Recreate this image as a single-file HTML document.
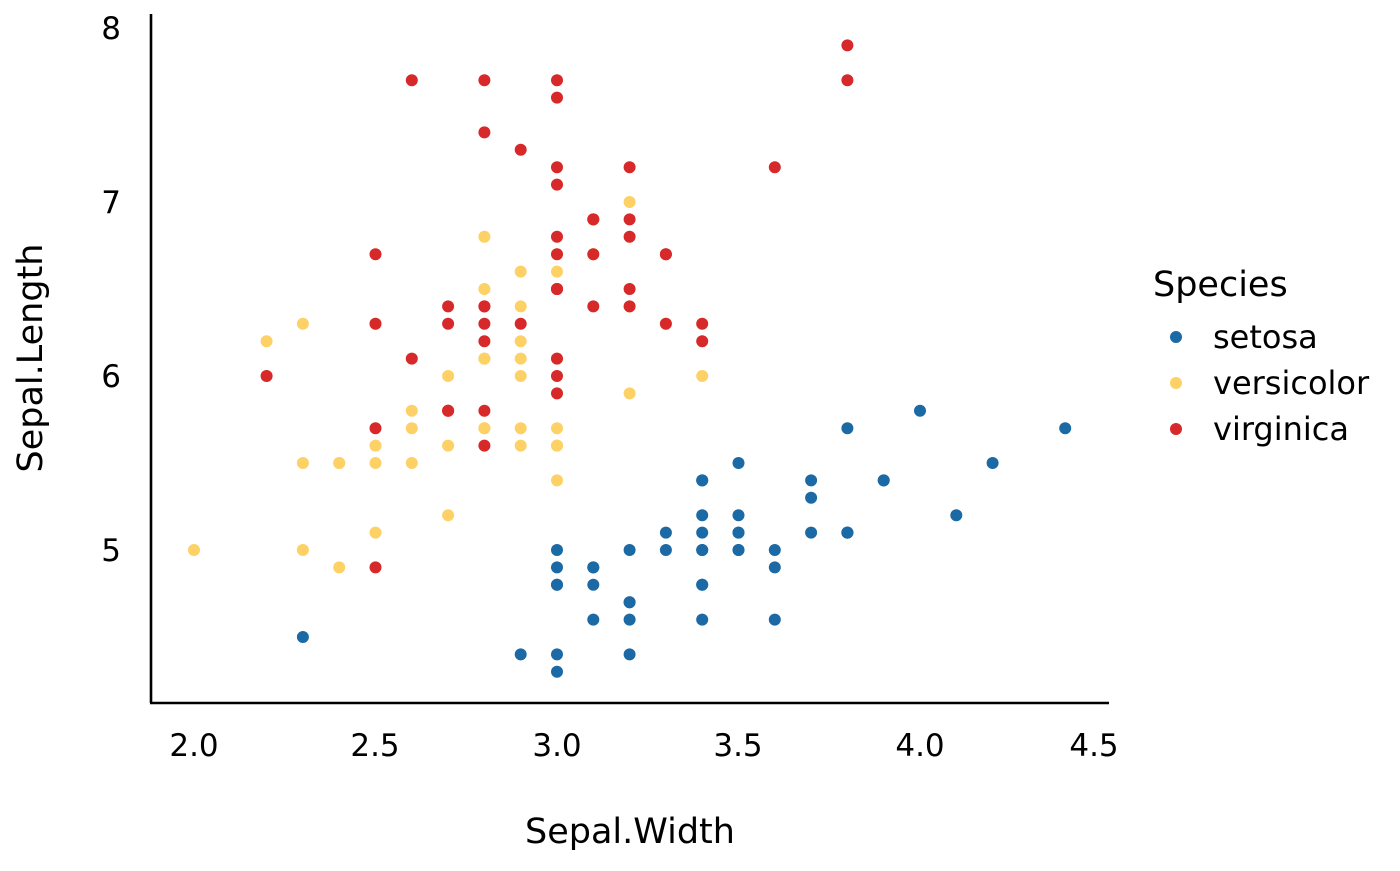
<!DOCTYPE html>
<html><head><meta charset="utf-8"><style>
html,body{margin:0;padding:0;background:#fff}
svg text{font-family:"DejaVu Sans","Liberation Sans",sans-serif;fill:#000}
</style></head><body>
<svg id="s" width="1400" height="866" xmlns="http://www.w3.org/2000/svg">
<line x1="151" y1="14" x2="151" y2="703" stroke="#000" stroke-width="2.6"/>
<line x1="150" y1="703" x2="1109" y2="703" stroke="#000" stroke-width="2.6"/>
<g font-size="31" text-anchor="end">
<text x="121" y="39">8</text><text x="121" y="213">7</text><text x="121" y="387">6</text><text x="121" y="561">5</text>
</g>
<g font-size="31" text-anchor="middle">
<text x="194" y="756">2.0</text><text x="375" y="756">2.5</text><text x="557" y="756">3.0</text><text x="738" y="756">3.5</text><text x="920" y="756">4.0</text><text x="1094" y="756">4.5</text>
<text x="630" y="843" font-size="35">Sepal.Width</text>
<text transform="translate(42,358) rotate(-90)" font-size="35">Sepal.Length</text>
</g>
<text x="1153" y="296" font-size="35">Species</text>
<circle cx="1176" cy="337" r="6" fill="#1b6aa5"/><text x="1213" y="348" font-size="32">setosa</text>
<circle cx="1176" cy="383" r="6" fill="#fdd166"/><text x="1213" y="394" font-size="32">versicolor</text>
<circle cx="1176" cy="429" r="6" fill="#d7282a"/><text x="1213" y="440" font-size="32">virginica</text>
<g id="pts"></g>
</svg>
<script>
var d={"#1b6aa5":"5.1,3.5;4.9,3.0;4.7,3.2;4.6,3.1;5.0,3.6;5.4,3.9;4.6,3.4;5.0,3.4;4.4,2.9;4.9,3.1;5.4,3.7;4.8,3.4;4.8,3.0;4.3,3.0;5.8,4.0;5.7,4.4;5.4,3.9;5.1,3.5;5.7,3.8;5.1,3.8;5.4,3.4;5.1,3.7;4.6,3.6;5.1,3.3;4.8,3.4;5.0,3.0;5.0,3.4;5.2,3.5;5.2,3.4;4.7,3.2;4.8,3.1;5.4,3.4;5.2,4.1;5.5,4.2;4.9,3.1;5.0,3.2;5.5,3.5;4.9,3.6;4.4,3.0;5.1,3.4;5.0,3.5;4.5,2.3;4.4,3.2;5.0,3.5;5.1,3.8;4.8,3.0;5.1,3.8;4.6,3.2;5.3,3.7;5.0,3.3",
"#fdd166":"7.0,3.2;6.4,3.2;6.9,3.1;5.5,2.3;6.5,2.8;5.7,2.8;6.3,3.3;4.9,2.4;6.6,2.9;5.2,2.7;5.0,2.0;5.9,3.0;6.0,2.2;6.1,2.9;5.6,2.9;6.7,3.1;5.6,3.0;5.8,2.7;6.2,2.2;5.6,2.5;5.9,3.2;6.1,2.8;6.3,2.5;6.1,2.8;6.4,2.9;6.6,3.0;6.8,2.8;6.7,3.0;6.0,2.9;5.7,2.6;5.5,2.4;5.5,2.4;5.8,2.7;6.0,2.7;5.4,3.0;6.0,3.4;6.7,3.1;6.3,2.3;5.6,3.0;5.5,2.5;5.5,2.6;6.1,3.0;5.8,2.6;5.0,2.3;5.6,2.7;5.7,3.0;5.7,2.9;6.2,2.9;5.1,2.5;5.7,2.8",
"#d7282a":"6.3,3.3;5.8,2.7;7.1,3.0;6.3,2.9;6.5,3.0;7.6,3.0;4.9,2.5;7.3,2.9;6.7,2.5;7.2,3.6;6.5,3.2;6.4,2.7;6.8,3.0;5.7,2.5;5.8,2.8;6.4,3.2;6.5,3.0;7.7,3.8;7.7,2.6;6.0,2.2;6.9,3.2;5.6,2.8;7.7,2.8;6.3,2.7;6.7,3.3;7.2,3.2;6.2,2.8;6.1,3.0;6.4,2.8;7.2,3.0;7.4,2.8;7.9,3.8;6.4,2.8;6.3,2.8;6.1,2.6;7.7,3.0;6.3,3.4;6.4,3.1;6.0,3.0;6.9,3.1;6.7,3.1;6.9,3.1;5.8,2.7;6.8,3.2;6.7,3.3;6.7,3.0;6.3,2.5;6.5,3.0;6.2,3.4;5.9,3.0"};
var g=document.getElementById("pts"),h="";
for(var c in d){d[c].split(";").forEach(function(p){var a=p.split(","),L=+a[0],W=+a[1];
h+='<circle cx="'+(194+(W-2)*363).toFixed(1)+'" cy="'+(550-(L-5)*174).toFixed(1)+'" r="6" fill="'+c+'"/>';});}
g.innerHTML=h;
</script>
</body></html>
